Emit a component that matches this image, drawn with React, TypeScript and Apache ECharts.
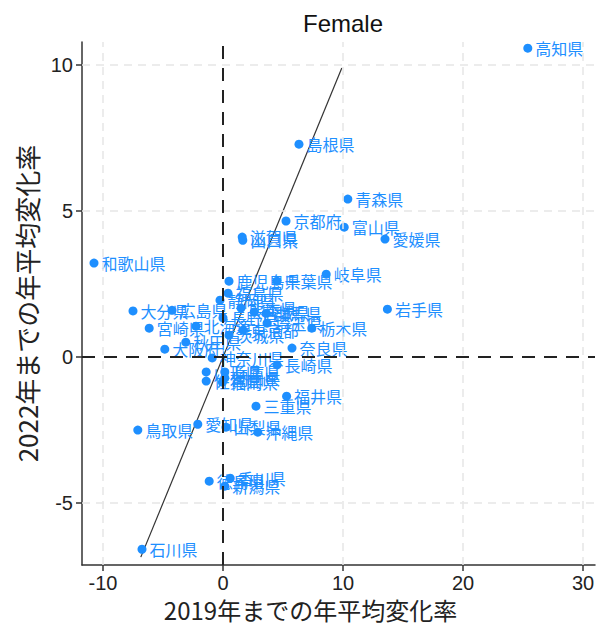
import React, { useEffect, useRef } from "react";
import * as echarts from "echarts";

const prefNames = [
  "高知県", "島根県", "青森県", "京都府", "富山県", "愛媛県", "滋賀県", "山口県",
  "和歌山県", "岐阜県", "鹿児島県", "千葉県", "岩手県", "大分県", "広島県", "宮崎県",
  "北海道", "秋田県", "大阪府", "栃木県", "奈良県", "神奈川県", "長崎県", "福井県",
  "三重県", "鳥取県", "愛知県", "山梨県", "沖縄県", "徳島県", "香川県", "新潟県",
  "石川県", "福島県", "静岡県", "熊本県", "宮城県", "群馬県", "長野県", "埼玉県",
  "東京都", "茨城県", "兵庫県", "岡山県", "福岡県", "山形県", "佐賀県",
];
const x2019 = [
  25.4, 6.33, 10.4, 5.25, 10.1, 13.5, 1.6, 1.65,
  -10.75, 8.6, 0.5, 4.5, 13.7, -7.5, -4.25, -6.15,
  -2.25, -3.1, -4.85, 7.4, 5.75, -0.9, 4.5, 5.3,
  2.75, -7.1, -2.1, 0.25, 2.9, -1.15, 0.6, 0.15,
  -6.75, 0.42, -0.25, 1.5, 2.6, 3.6, 0.0, 3.67,
  1.67, 0.5, 0.15, 0.15, -0.05, -1.4, -1.4,
];
const y2022 = [
  10.58, 7.29, 5.41, 4.66, 4.45, 4.04, 4.11, 4.0,
  3.22, 2.84, 2.6, 2.6, 1.64, 1.58, 1.6, 0.99,
  1.06, 0.51, 0.27, 0.99, 0.31, -0.03, -0.27, -1.34,
  -1.68, -2.5, -2.3, -2.4, -2.57, -4.25, -4.15, -4.42,
  -6.58, 2.19, 1.95, 1.68, 1.54, 1.5, 1.34, 1.16,
  0.92, 0.75, -0.51, -0.72, -0.86, -0.51, -0.82,
];
const diagonalLine = [-6.85, 9.9];
const xTicks = [-10, 0, 10, 20, 30];
const yTicks = [-5, 0, 5, 10];
const xGridValues = [-10, 10, 20, 30];
const yGridValues = [-5, 5, 10];

const BLUE = "#1e8fff";
const JP = "'Noto Sans CJK JP', 'Noto Sans', sans-serif";
const LAT = "'Liberation Sans', Arial, sans-serif";

export default function App() {
  const ref = useRef<HTMLDivElement>(null);
  useEffect(() => {
    document.body.style.margin = "0";
    const chart = echarts.init(ref.current!, null, { renderer: "svg" });
    const points = prefNames.map((n, i) => ({ name: n, value: [x2019[i], y2022[i]] }));
    const gridStyle = { color: "#e6e6e6", width: 1.5, type: [8, 6] as any };
    chart.setOption({
      animation: false,
      backgroundColor: "#ffffff",
      title: {
        text: "Female",
        left: 338,
        textAlign: "center",
        top: 6,
        textStyle: { fontFamily: LAT, fontSize: 24, fontWeight: "normal", color: "#111" },
      },
      grid: { left: 82, right: 8, top: 42, bottom: 62, containLabel: false },
      xAxis: {
        type: "value",
        min: -11.75,
        max: 31,
        name: "2019年までの年平均変化率",
        nameLocation: "middle",
        nameGap: 28,
        nameTextStyle: { fontFamily: JP, fontSize: 24, color: "#222", padding: [0, 56, 0, 0] },
        axisLine: { show: true, onZero: false, lineStyle: { color: "#333", width: 1.5 } },
        axisTick: { show: true, length: 6, customValues: xTicks, lineStyle: { color: "#333", width: 1.5 } },
        axisLabel: { customValues: xTicks, fontFamily: LAT, fontSize: 20, color: "#222", margin: 8 },
        splitLine: { show: false },
      },
      yAxis: {
        type: "value",
        min: -7.12,
        max: 10.79,
        name: "2022年までの年平均変化率",
        nameLocation: "middle",
        nameGap: 40,
        nameTextStyle: { fontFamily: JP, fontSize: 26, color: "#222" },
        axisLine: { show: true, onZero: false, lineStyle: { color: "#333", width: 1.5 } },
        axisTick: { show: true, length: 6, customValues: yTicks, lineStyle: { color: "#333", width: 1.5 } },
        axisLabel: { customValues: yTicks, fontFamily: LAT, fontSize: 20, color: "#222", margin: 9 },
        splitLine: { show: false },
      },
      series: [
        {
          type: "scatter",
          data: [],
          silent: true,
          z: 1,
          markLine: {
            silent: true,
            symbol: "none",
            label: { show: false },
            lineStyle: gridStyle,
            data: [
              ...xGridValues.map((v) => ({ xAxis: v })),
              ...yGridValues.map((v) => ({ yAxis: v })),
            ],
          },
        },
        {
          type: "scatter",
          data: [],
          silent: true,
          z: 2,
          markLine: {
            silent: true,
            symbol: "none",
            label: { show: false },
            lineStyle: { color: "#222", width: 2, type: [13, 9] as any },
            data: [{ xAxis: 0 }, { yAxis: 0 }],
          },
        },
        {
          type: "line",
          data: diagonalLine.map((v) => [v, v]),
          showSymbol: false,
          symbol: "none",
          z: 3,
          lineStyle: { color: "#333", width: 1.2 },
        },
        {
          type: "scatter",
          data: points,
          symbolSize: 9,
          z: 4,
          itemStyle: { color: BLUE, opacity: 1 },
          label: {
            show: true,
            position: "right",
            distance: 3,
            formatter: "{b}",
            color: BLUE,
            fontFamily: JP,
            fontSize: 16,
          },
        },
      ],
    });
    return () => chart.dispose();
  }, []);
  return (
    <div
      ref={ref}
      style={{ position: "absolute", left: 0, top: 0, width: 603, height: 627 }}
    />
  );
}
